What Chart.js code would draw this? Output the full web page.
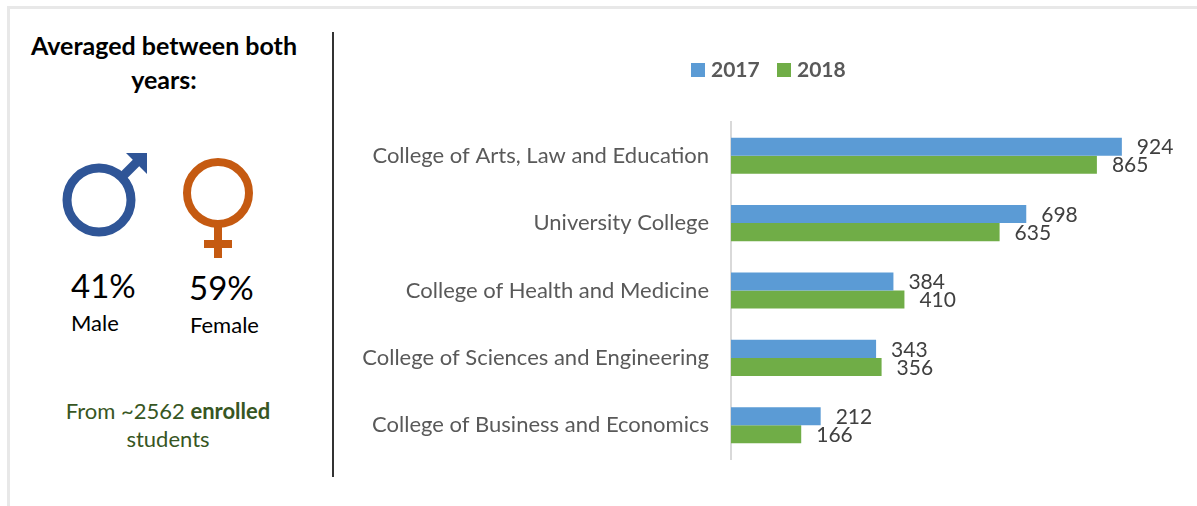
<!DOCTYPE html>
<html><head><meta charset="utf-8">
<script src="https://cdn.jsdelivr.net/npm/chart.js@4"></script>
<style>
html,body{margin:0;padding:0;background:#fff;width:1197px;height:506px;overflow:hidden;font-family:Lato,sans-serif}
.t{position:absolute;white-space:nowrap;line-height:1}
#wrap{position:absolute;left:340px;top:0;width:857px;height:506px}
</style></head><body>
<div style="position:absolute;left:7px;top:6px;width:1190px;height:3px;background:#e8e8e8"></div>
<div style="position:absolute;left:7px;top:6px;width:3px;height:500px;background:#e8e8e8"></div>
<div style="position:absolute;left:332px;top:32px;width:2px;height:445px;background:#333"></div>
<div class="t" style="left:14px;width:300px;top:28px;text-align:center;font-weight:700;font-size:25px;color:#000;line-height:34px">Averaged between both<br>years:</div>
<svg style="position:absolute;left:0;top:0" width="340" height="300">
<circle cx="99" cy="200" r="32" fill="none" stroke="#2f5597" stroke-width="9"/>
<path d="M124 175 L140 159" stroke="#2f5597" stroke-width="9" fill="none"/>
<path d="M126 153 H147 V174 Z" fill="#2f5597"/>
<circle cx="218" cy="193" r="31" fill="none" stroke="#c55a11" stroke-width="8"/>
<path d="M218 224 V258 M204 244 H232" stroke="#c55a11" stroke-width="8" fill="none"/>
</svg>
<div class="t" style="left:71px;top:269px;font-size:33px;color:#000">41%</div>
<div class="t" style="left:71px;top:312px;font-size:22px;color:#000">Male</div>
<div class="t" style="left:189px;top:271px;font-size:33px;color:#000">59%</div>
<div class="t" style="left:190px;top:314px;font-size:22px;color:#000">Female</div>
<div class="t" style="left:18px;width:300px;top:397px;text-align:center;font-size:22px;color:#375623;line-height:28px">From ~2562 <b>enrolled</b><br>students</div>
<div id="wrap"><canvas id="c" width="857" height="506"></canvas></div>
<script>
const categories = ["College of Arts, Law and Education","University College","College of Health and Medicine","College of Sciences and Engineering","College of Business and Economics"];
const values2017 = [924,698,384,343,212];
const values2018 = [865,635,410,356,166];
const seriesNames = ["2017","2018"];
const barLabels = {
  id:'barLabels',
  afterDatasetsDraw(chart){
    const ctx = chart.ctx;
    ctx.save();
    ctx.font = '21px Lato, sans-serif';
    ctx.fillStyle = '#404040';
    ctx.textAlign = 'left';
    ctx.textBaseline = 'middle';
    chart.data.datasets.forEach((ds,i)=>{
      chart.getDatasetMeta(i).data.forEach((el,j)=>{
        ctx.fillText(String(ds.data[j]), el.x+15, el.y+1);
      });
    });
    // legend, with the tight swatch-to-text gap of the reference
    ctx.font = 'bold 21px Lato, sans-serif';
    let x = 351;
    chart.data.datasets.forEach(ds=>{
      ctx.fillStyle = ds.backgroundColor;
      ctx.fillRect(x,63,14,14);
      ctx.fillStyle = '#595959';
      ctx.fillText(ds.label,x+20,70.5);
      x += 86;
    });
    ctx.restore();
  }
};
new Chart(document.getElementById('c'),{
  type:'bar',
  data:{labels:categories,datasets:[
    {label:seriesNames[0],data:values2017,backgroundColor:'#5b9bd5',borderWidth:0,categoryPercentage:0.535,barPercentage:1},
    {label:seriesNames[1],data:values2018,backgroundColor:'#70ad47',borderWidth:0,categoryPercentage:0.535,barPercentage:1}
  ]},
  options:{
    indexAxis:'y',responsive:false,animation:false,
    layout:{padding:{top:122,right:43,bottom:47,left:0}},
    plugins:{tooltip:{enabled:false},legend:{display:false}},
    scales:{
      x:{display:false,min:0,max:1000,grid:{display:false}},
      y:{
        afterFit(s){s.width=391;},
        grid:{display:false,drawTicks:false},
        border:{display:true,color:'#d9d9d9',width:2},
        ticks:{color:'#595959',padding:22,autoSkip:false,font:{size:22,family:'Lato, sans-serif'}}
      }
    }
  },
  plugins:[barLabels]
});
</script>
</body></html>
